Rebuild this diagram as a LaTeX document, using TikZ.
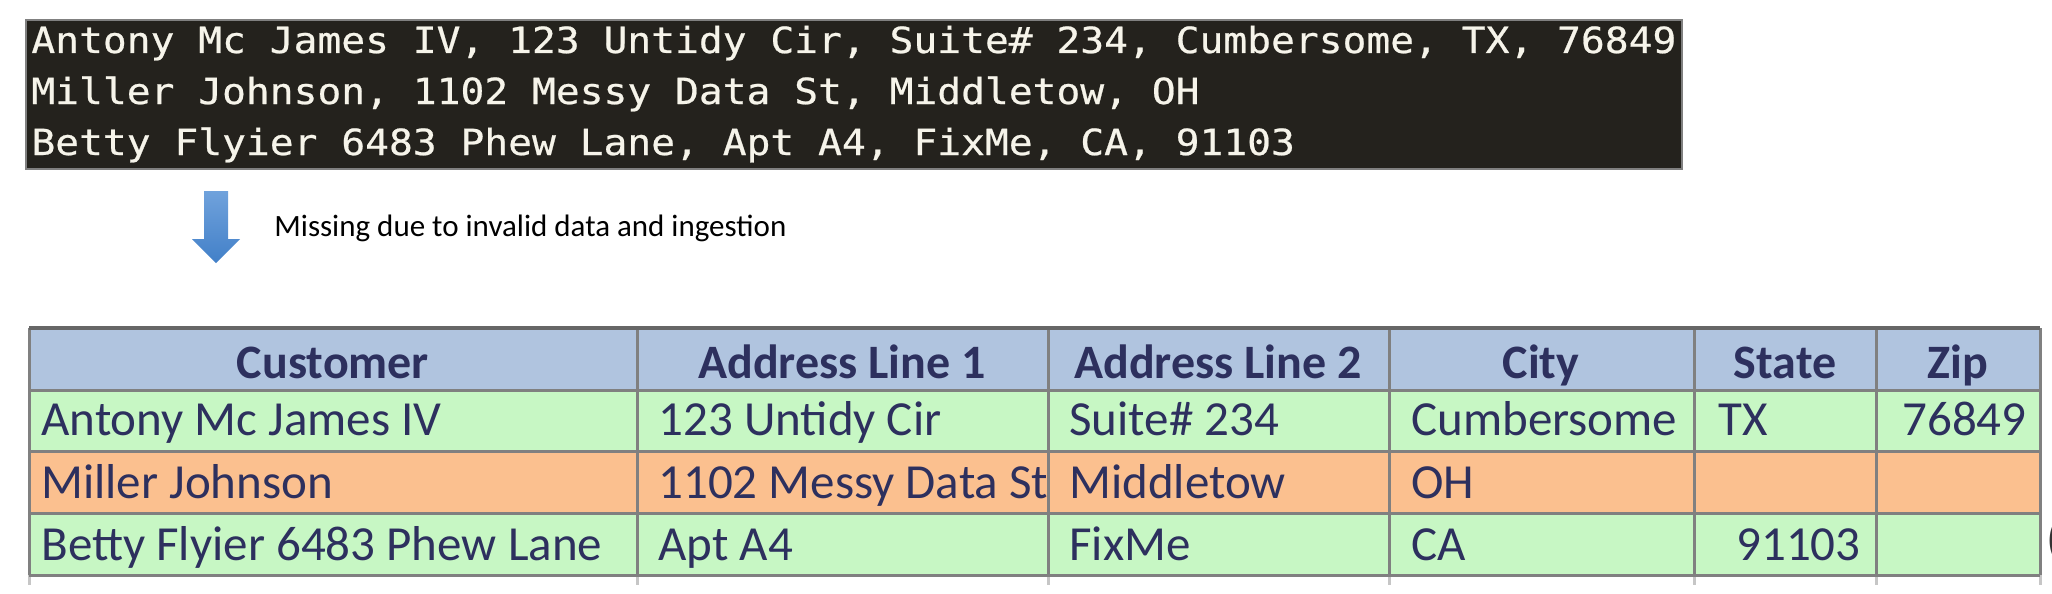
\documentclass[tikz,border=0pt]{standalone}
\usepackage{fontspec}
\setmainfont{Carlito}
\newfontfamily\termfont[FakeStretch=1.1,FakeBold=0.6]{DejaVu Sans Mono}
\usetikzlibrary{calc}
\definecolor{termbg}{RGB}{36,34,29}
\definecolor{termink}{RGB}{246,244,234}
\definecolor{headblue}{RGB}{176,196,223}
\definecolor{rowgreen}{RGB}{199,247,196}
\definecolor{roworange}{RGB}{251,192,143}
\definecolor{cellink}{RGB}{45,48,94}
\definecolor{gridgray}{RGB}{128,128,128}
\definecolor{arrowtop}{RGB}{112,162,220}
\definecolor{arrowbot}{RGB}{66,128,200}

\tikzset{
  termline/.style={anchor=base west, inner sep=0pt, text=termink, font=\termfont\fontsize{18}{18}\selectfont},
  headcell/.style={anchor=base, inner sep=0pt, text=cellink, font=\fontsize{24}{24}\selectfont\bfseries},
  bodycell/.style={anchor=base west, inner sep=0pt, text=cellink, font=\fontsize{24.5}{24.5}\selectfont},
  bodyright/.style={bodycell, anchor=base east},
  gridline/.style={gridgray, line width=1.5pt}
}

\begin{document}
\begin{tikzpicture}[x=0.5pt, y=-0.5pt]
    \useasboundingbox (0,0) rectangle (2052,594);

    % Raw input lines
    \draw[gridgray, line width=1pt, fill=termbg] (26,20) rectangle (1682,169);
    \foreach \i/\y/\txt in {
        1/53/{Antony Mc James IV, 123 Untidy Cir, Suite\# 234, Cumbersome, TX, 76849},
        2/104/{Miller Johnson, 1102 Messy Data St, Middletow, OH},
        3/155/{Betty Flyier 6483 Phew Lane, Apt A4, FixMe, CA, 91103}%
    } {
        \node[termline] (raw\i) at (31,\y) {\txt};
    }

    % Down arrow and note
    \shade[top color=arrowtop, bottom color=arrowbot]
        (204,191) -- (228,191) -- (228,239) -- (240,239) -- (216,263) -- (192,239) -- (204,239) -- cycle;
    \node[anchor=base west, inner sep=0pt, font=\fontsize{15.5}{15.5}\selectfont] (note) at (274,236)
        {Missing due to invalid data and ingestion};

    % Row fills
    \fill[headblue] (29,328) rectangle (2040,390);
    \fill[rowgreen] (29,390) rectangle (2040,451);
    \fill[roworange] (29,451) rectangle (2040,513);
    \fill[rowgreen] (29,513) rectangle (2040,575);

    % Header
    \foreach \n/\x/\txt in {1/333/Customer, 2/842/{Address Line 1}, 3/1218/{Address Line 2},
                            4/1541/City, 5/1785/State, 6/1958/Zip} {
        \node[headcell] (head\n) at (\x,378) {\txt};
    }

    % Row 1
    \node[bodycell] (a1) at (41,435) {Antony Mc James IV};
    \node[bodycell] (a2) at (658,435) {123 Untidy Cir};
    \node[bodycell] (a3) at (1069,435) {Suite\# 234};
    \node[bodycell] (a4) at (1411,435) {Cumbersome};
    \node[bodycell] (a5) at (1718,435) {TX};
    \node[bodyright] (a6) at (2027,435) {76849};

    % Row 2
    \node[bodycell] (b1) at (41,498) {Miller Johnson};
    \begin{scope}
        \clip (637,451) rectangle (1048,513);
        \node[bodycell] (b2) at (658,498) {1102 Messy Data St};
    \end{scope}
    \node[bodycell] (b3) at (1069,498) {Middletow};
    \node[bodycell] (b4) at (1411,498) {OH};

    % Row 3
    \node[bodycell] (c1) at (41,560) {Betty Flyier 6483 Phew Lane};
    \node[bodycell] (c2) at (658,560) {Apt A4};
    \node[bodycell] (c3) at (1069,560) {FixMe};
    \node[bodycell] (c4) at (1411,560) {CA};
    \node[bodyright] (c5) at (1861,560) {91103};
    \node[bodycell, text=black!80] (edge) at (2046,555) {(};

    % Grid
    \foreach \x in {29,637,1048,1389,1694,1876,2040} {
        \draw[gridline] (\x,328) -- (\x,575);
        \draw[gridgray!45, line width=1.5pt] (\x,575) -- (\x,585);
    }
    \foreach \y in {390,451,513,575}
        \draw[gridline] (29,\y) -- (2040,\y);
    \draw[gridgray!80!black, line width=2pt] (29,328) -- (2040,328);
\end{tikzpicture}
\end{document}
